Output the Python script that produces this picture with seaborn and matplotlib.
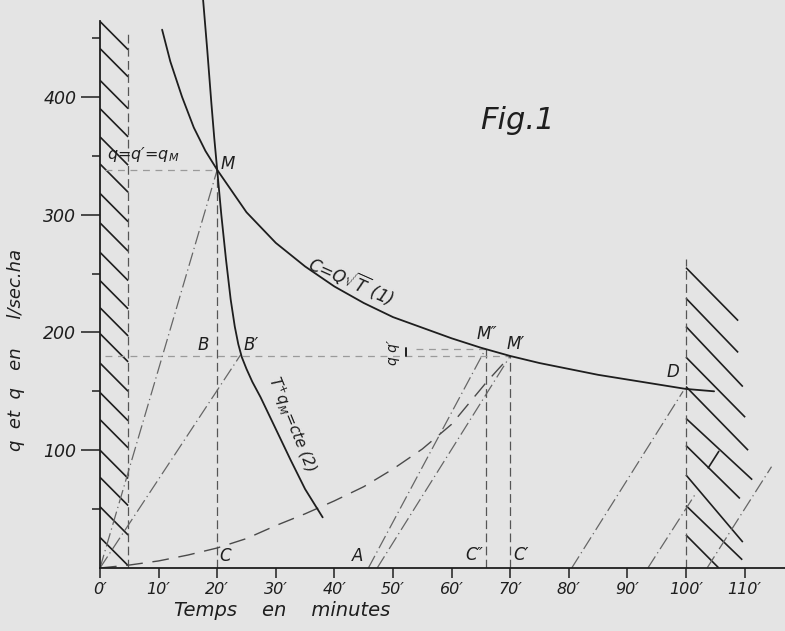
import matplotlib
matplotlib.use("Agg")
import matplotlib.pyplot as plt
import seaborn as sns

# =====================
# Data (T in minutes, q in l/sec.ha)
# =====================
x_ticks = [0, 10, 20, 30, 40, 50, 60, 70, 80, 90, 100, 110]
x_labels = ["0′", "10′", "20′", "30′", "40′", "50′", "60′", "70′", "80′", "90′", "100′", "110′"]
y_ticks = [100, 200, 300, 400]
y_minor = [50, 150, 250, 350, 450]

# curve (1): C = Q sqrt(T)
c1_t = [10.6, 12, 14, 16, 18, 20, 25, 30, 35, 40, 45, 50, 55, 60, 65, 70,
        75, 80, 85, 90, 95, 100, 104.8]
c1_q = [457, 430, 400, 374, 354, 338, 302, 276, 256, 239, 225, 213, 204, 195,
        187, 180, 174, 169, 164, 160, 156, 152, 150]

# curve (2): T+ qM = cte
c2_t = [17.6, 18.3, 19.0, 19.5, 20, 20.7, 21.5, 22.3, 23.0, 23.6, 24.2, 25, 26, 27.4,
        30, 32.5, 35, 38]
c2_q = [482, 440, 395, 365, 338, 300, 262, 228, 205, 190, 179, 169, 158, 145,
        118, 92, 67, 43]

# long dashed curve from origin to M'
c3_t = [0, 5, 10, 15, 20, 25, 30, 35, 40, 45, 50, 55, 60, 63, 66, 70]
c3_q = [0, 2.5, 6, 11, 17, 25, 36, 46, 57, 69, 84, 101, 122, 140, 158, 180]

# dash-dot construction lines (T0, q0, T1, q1)
dd_t0 = [0, 0, 45.8, 47.3, 80.5, 93.5, 103.6]
dd_q0 = [0, 0, 0, 0, 0, 0, 0]
dd_t1 = [20, 24, 65.8, 70, 99.5, 101.5, 114.6]
dd_q1 = [338, 181, 186, 180, 150, 62, 86]

# vertical dashed guides
v_t = [4.8, 20, 65.8, 70, 100]
v_top = [455, 338, 186, 180, 262]
# horizontal dashed guides
h_q = [338, 180, 186]
h_from = [0.8, 0.8, 54]
h_to = [20, 70, 65.8]

# hatching of the two excluded zones
left_hatch_q = [464, 441, 414, 390, 366, 343, 318, 293, 268, 244, 221, 199,
                174, 149, 126, 100, 77, 52, 26]
right_hatch_q = [255, 229, 205, 179, 154, 127, 104, 79, 53, 28]
right_hatch_end_t = [108.9, 108.9, 109.7, 110.1, 110.6, 111.3, 109.2, 109.7, 109.6, 105.6]
right_hatch_end_q = [210, 183, 154, 128, 100, 75, 59, 22, 7, 0]

# point labels
lab_text = ["M", "B", "B′", "C", "A", "C″", "C′", "M″", "M′", "D"]
lab_t = [20.6, 16.6, 24.5, 20.4, 43.0, 62.3, 70.6, 64.2, 69.4, 96.6]
lab_q = [343, 189, 189, 10, 10, 11, 11, 199, 190, 166]

# =====================
# Plot
# =====================
sns.set_theme(style="white")
plt.rcParams['font.family'] = ['DejaVu Sans']
bg = '#e4e4e4'
ink = '#1e1e1e'

fig = plt.figure(figsize=(7.85, 6.31), dpi=100, facecolor=bg)
ax = fig.add_axes([100 / 785, 63 / 631, 685 / 785, 568 / 631])
ax.set_facecolor(bg)
ax.set_xlim(0, 116.9)
ax.set_ylim(0, 482.2)

# hatching
for q0 in left_hatch_q:
    ax.plot([0, 4.8], [q0, max(q0 - 24, 0)], color=ink, lw=1.2, solid_capstyle='butt')
for q0, t1, q1 in zip(right_hatch_q, right_hatch_end_t, right_hatch_end_q):
    ax.plot([100, t1], [q0, q1], color=ink, lw=1.2, solid_capstyle='butt')
ax.plot([103.8, 105.6], [85, 99], color=ink, lw=1.2)

# guides
for t, top in zip(v_t, v_top):
    ax.plot([t, t], [0, top], color='#555555', lw=0.9, ls=(0, (7, 3.5)))
for q, a, b in zip(h_q, h_from, h_to):
    ax.plot([a, b], [q, q], color='#9a9a9a', lw=0.9, ls=(0, (5.5, 4.5)))
for t0, q0, t1, q1 in zip(dd_t0, dd_q0, dd_t1, dd_q1):
    ax.plot([t0, t1], [q0, q1], color='#666666', lw=0.9, ls=(0, (11, 3, 1, 3)))

# curves
sns.lineplot(x=c3_t, y=c3_q, ax=ax, sort=False, color='#4a4a4a', lw=1.0,
             linestyle=(0, (12, 7)))
sns.lineplot(x=c1_t, y=c1_q, ax=ax, sort=False, color=ink, lw=1.3)
sns.lineplot(x=c2_t, y=c2_q, ax=ax, sort=False, color=ink, lw=1.3)

# labels
for s, t, q in zip(lab_text, lab_t, lab_q):
    ax.text(t, q, s, fontsize=12, style='italic', ha='left', va='center', color=ink)
ax.text(1.2, 351, "q=q′=q$_M$", fontsize=11.5, style='italic', ha='left', va='center', color=ink)
ax.text(43, 245, r"C=Q$\sqrt{T}$ (1)", fontsize=12, style='italic', rotation=-24,
        rotation_mode='anchor', ha='center', va='center', color=ink)
ax.text(32.8, 122, "T$^{+}$q$_M$=cte (2)", fontsize=11, style='italic', rotation=-67.7,
        rotation_mode='anchor', ha='center', va='center', color=ink)
ax.text(50.0, 183, "q q′", fontsize=10, style='italic', rotation=90,
        ha='center', va='center', color=ink)
ax.plot([52.2, 52.2], [180, 187], color=ink, lw=1.4)
ax.text(64.8, 380, "Fig.1", fontsize=22, style='italic', ha='left', va='center', color=ink)

# axes
for side in ['top', 'right']:
    ax.spines[side].set_visible(False)
ax.spines['left'].set_bounds(0, 464)
for side in ['left', 'bottom']:
    ax.spines[side].set_color(ink)
    ax.spines[side].set_linewidth(1.3)

ax.set_xticks(x_ticks)
ax.set_xticklabels(x_labels, fontstyle='italic', fontsize=11.5, color=ink)
ax.set_yticks(y_ticks)
ax.set_yticklabels([str(v) for v in y_ticks], fontstyle='italic', fontsize=12.5, color=ink)
ax.set_yticks(y_minor, minor=True)
ax.tick_params(axis='x', which='major', direction='out', length=7, width=1.1,
               color=ink, pad=3, bottom=True)
ax.tick_params(axis='y', which='major', direction='out', length=14, width=1.1,
               color=ink, pad=3, left=True)
ax.tick_params(axis='y', which='minor', direction='out', length=6, width=1.1,
               color=ink, left=True)

# axis titles placed where the drawing has them
fig.text(282 / 785, 1 - 611 / 631, "Temps    en    minutes", fontsize=14, style='italic',
         ha='center', va='center', color=ink)
fig.text(16 / 785, 1 - 350 / 631, "q  et  q   en     l/sec.ha", fontsize=13, style='italic',
         rotation=90, ha='center', va='center', color=ink)

fig.savefig("out.png", dpi=100, facecolor=bg)
